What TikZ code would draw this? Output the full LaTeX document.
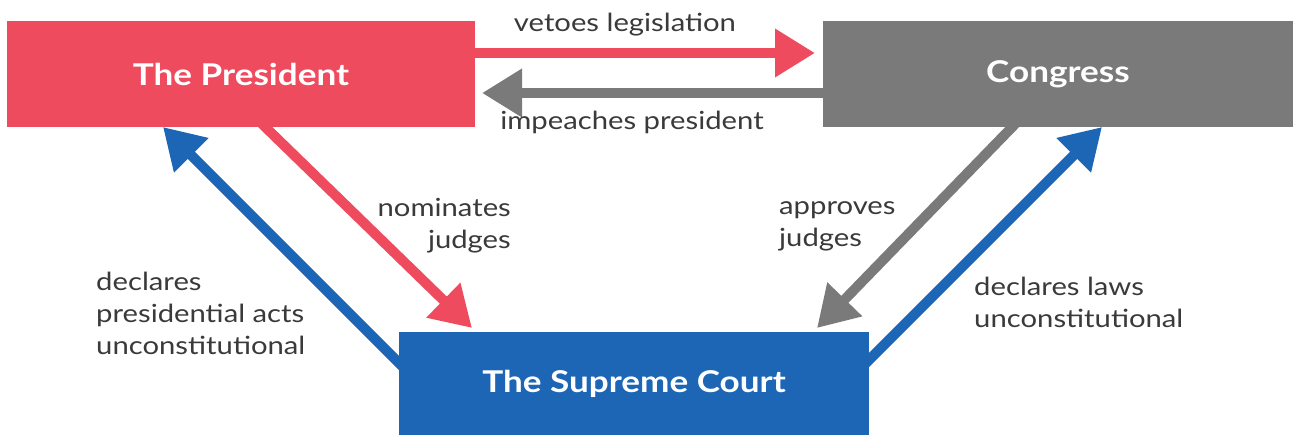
\documentclass[tikz,border=0pt]{standalone}
\usepackage{fontspec}
\setmainfont{Lato}[FakeStretch=1.17]
\usetikzlibrary{arrows.meta}
\definecolor{pred}{HTML}{EE4B5F}
\definecolor{cgray}{HTML}{7A7A7A}
\definecolor{cblue}{HTML}{1C66B5}
\definecolor{txt}{HTML}{3A3A3A}
\tikzset{
  box/.style={draw=none, minimum width=468pt, minimum height=106pt, inner sep=0pt, text=white, font=\fontsize{30}{36}\selectfont\bfseries},
  lbl/.style={text=txt, font=\fontsize{25}{32}\selectfont, inner sep=0pt},
  arr/.style={line width=10pt, -{Triangle[length=40pt 0 0,width=46pt 0 0]}}
}
\begin{document}
\begin{tikzpicture}[x=1pt,y=-1pt]
\useasboundingbox[fill=white] (0,0) rectangle (1296,435);
\node[box, fill=pred] (pres) at (241,74) {The President};
\node[box, fill=cgray, minimum width=470pt] (cong) at (1058,74) {Congress};
\node[box, fill=cblue, minimum width=470pt, minimum height=103pt] (court) at (634,383.5) {The Supreme Court};

\coordinate (vetoS) at ([xshift=-4pt]pres.east |- 0,53);
\coordinate (vetoE) at (815,53);
\coordinate (impS) at ([xshift=4pt]cong.west |- 0,93);
\coordinate (impE) at (482,93);
\coordinate (nomS) at (259,121);
\coordinate (nomE) at (472,328);
\coordinate (declPS) at (405,369);
\coordinate (declPE) at (163,127);
\coordinate (appS) at (1019,120);
\coordinate (appE) at (817,328);
\coordinate (declLS) at (863,366);
\coordinate (declLE) at (1102,127);

\draw[arr, pred] (vetoS) -- (vetoE);
\draw[arr, cgray] (impS) -- (impE);
\draw[arr, pred] (nomS) -- (nomE);
\draw[arr, cblue] (declPS) -- (declPE);
\draw[arr, cgray] (appS) -- (appE);
\draw[arr, cblue] (declLS) -- (declLE);

\node[lbl] (lveto) at (625,25) {vetoes legislation};
\node[lbl] (limp) at (632,122) {impeaches president};
\node[lbl, align=right, anchor=east] (lnom) at (511,226) {nominates\\judges};
\node[lbl, align=left, anchor=west] (lapp) at (779,226) {approves\\judges};
\node[lbl, align=left, anchor=west] (lpres) at (96,313) {declares\\presidential acts\\unconstitutional};
\node[lbl, align=left, anchor=west] (llaws) at (974,302) {declares laws\\unconstitutional};
\end{tikzpicture}
\end{document}
